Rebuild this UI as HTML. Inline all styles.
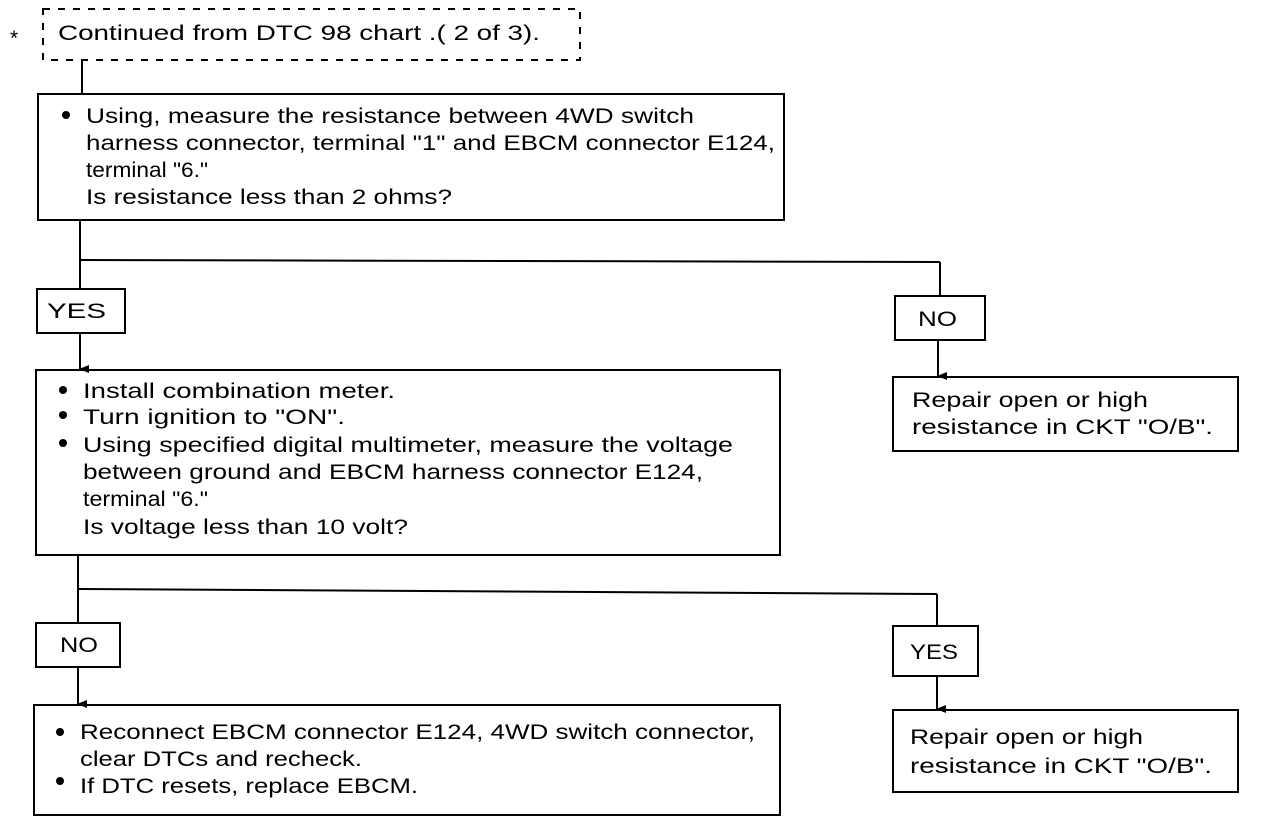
<!DOCTYPE html>
<html><head><meta charset="utf-8"><style>html,body{margin:0;background:#fff}svg{display:block}text{font-family:"Liberation Sans",sans-serif;font-size:21px;fill:#000}</style></head><body>
<svg width="1280" height="826" viewBox="0 0 1280 826" xmlns="http://www.w3.org/2000/svg">
<defs><marker id="a" markerWidth="8" markerHeight="10" refX="4" refY="9" orient="auto" markerUnits="userSpaceOnUse"><path d="M0,0 L4,10 L8,0 Z" fill="#000"/></marker></defs>
<g fill="none" stroke="#000" stroke-width="2">
<rect x="43" y="9" width="537" height="51" stroke-dasharray="7,8"/>
<line x1="82" y1="60" x2="82" y2="94"/>
<rect x="38" y="94" width="746" height="126"/>
<line x1="80" y1="220" x2="80" y2="290"/>
<line x1="80" y1="260" x2="940" y2="262"/>
<line x1="940" y1="262" x2="940" y2="296"/>
<rect x="37" y="289" width="88" height="44"/>
<line x1="80" y1="333" x2="80" y2="369" marker-end="url(#a)"/>
<rect x="895" y="296" width="90" height="44"/>
<line x1="938" y1="340" x2="938" y2="376" marker-end="url(#a)"/>
<rect x="893" y="377" width="345" height="74"/>
<rect x="36" y="370" width="744" height="185"/>
<line x1="78" y1="555" x2="78" y2="623"/>
<line x1="78" y1="589" x2="937" y2="594"/>
<line x1="937" y1="594" x2="937" y2="626"/>
<rect x="36" y="623" width="84" height="44"/>
<line x1="78" y1="667" x2="78" y2="704" marker-end="url(#a)"/>
<rect x="893" y="626" width="85" height="50"/>
<line x1="937" y1="676" x2="937" y2="709" marker-end="url(#a)"/>
<rect x="34" y="705" width="746" height="110"/>
<rect x="893" y="710" width="345" height="82"/>
</g>
<g fill="#000">
<circle cx="66" cy="115" r="4"/>
<circle cx="63" cy="390" r="4"/><circle cx="63" cy="415" r="4"/><circle cx="63" cy="443" r="4"/>
<circle cx="60" cy="732" r="4"/><circle cx="60" cy="781" r="4"/>
</g>
<text x="10" y="45" font-size="24">*</text>
<text x="58" y="40" textLength="482" lengthAdjust="spacingAndGlyphs">Continued from DTC 98 chart   .(  2 of 3).</text>
<text x="86" y="123" textLength="608" lengthAdjust="spacingAndGlyphs">Using, measure the resistance between 4WD switch</text>
<text x="86" y="150" textLength="689" lengthAdjust="spacingAndGlyphs">harness connector, terminal "1" and EBCM connector E124,</text>
<text x="86" y="177" textLength="122" lengthAdjust="spacingAndGlyphs">terminal "6."</text>
<text x="86" y="204" textLength="366" lengthAdjust="spacingAndGlyphs">Is resistance less than 2 ohms?</text>
<text x="47" y="318" textLength="59" lengthAdjust="spacingAndGlyphs">YES</text>
<text x="918" y="326" textLength="39" lengthAdjust="spacingAndGlyphs">NO</text>
<text x="912" y="407" textLength="236" lengthAdjust="spacingAndGlyphs">Repair open or high</text>
<text x="912" y="434" textLength="301" lengthAdjust="spacingAndGlyphs">resistance in CKT "O/B".</text>
<text x="83" y="398" textLength="312" lengthAdjust="spacingAndGlyphs">Install combination meter.</text>
<text x="83" y="424" textLength="262" lengthAdjust="spacingAndGlyphs">Turn ignition to "ON".</text>
<text x="83" y="452" textLength="650" lengthAdjust="spacingAndGlyphs">Using specified digital multimeter, measure the voltage</text>
<text x="83" y="479" textLength="620" lengthAdjust="spacingAndGlyphs">between ground and EBCM harness connector E124,</text>
<text x="83" y="506" textLength="125" lengthAdjust="spacingAndGlyphs">terminal "6."</text>
<text x="83" y="534" textLength="325" lengthAdjust="spacingAndGlyphs">Is voltage less than 10 volt?</text>
<text x="60" y="652" textLength="38" lengthAdjust="spacingAndGlyphs">NO</text>
<text x="910" y="659" textLength="48" lengthAdjust="spacingAndGlyphs">YES</text>
<text x="80" y="739" textLength="675" lengthAdjust="spacingAndGlyphs">Reconnect EBCM connector E124, 4WD switch connector,</text>
<text x="80" y="766" textLength="282" lengthAdjust="spacingAndGlyphs">clear DTCs and recheck.</text>
<text x="80" y="793" textLength="338" lengthAdjust="spacingAndGlyphs">If DTC resets, replace EBCM.</text>
<text x="910" y="744" textLength="233" lengthAdjust="spacingAndGlyphs">Repair open or high</text>
<text x="910" y="773" textLength="302" lengthAdjust="spacingAndGlyphs">resistance in CKT "O/B".</text>
</svg>
</body></html>
